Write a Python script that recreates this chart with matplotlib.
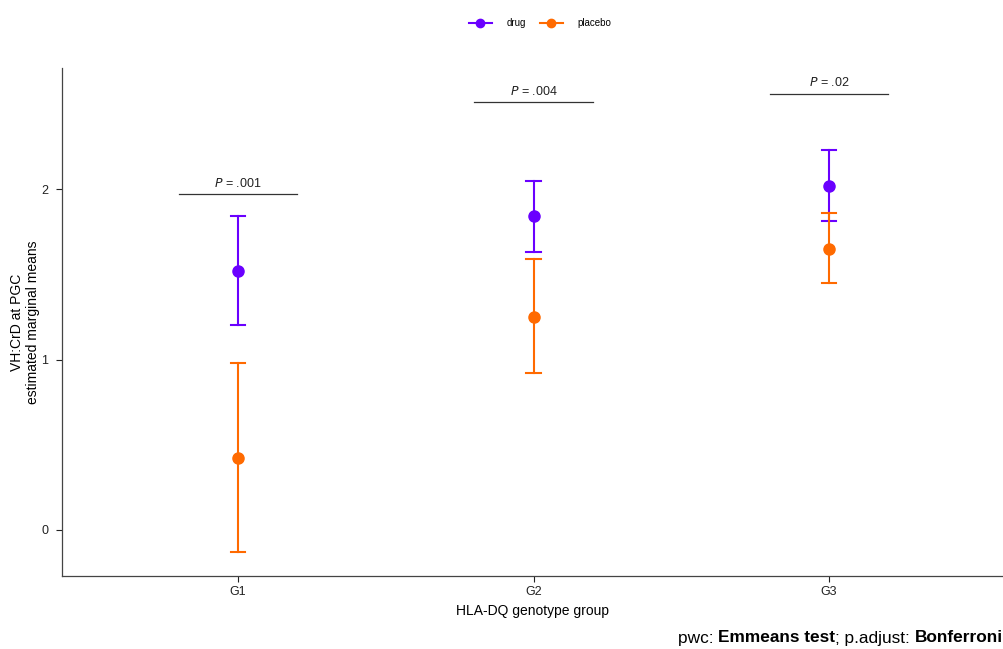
import matplotlib
matplotlib.use("Agg")
from matplotlib import pyplot as plt
from matplotlib.lines import Line2D

plt.rcParams['font.family'] = ['Liberation Sans', 'DejaVu Sans']

groups = ["G1", "G2", "G3"]

drug_mean = [1.52, 1.84, 2.02]
drug_low = [1.20, 1.63, 1.81]
drug_high = [1.84, 2.05, 2.23]

placebo_mean = [0.42, 1.25, 1.65]
placebo_low = [-0.13, 0.92, 1.45]
placebo_high = [0.98, 1.59, 1.86]

p_labels = [".001", ".004", ".02"]
p_heights = [1.97, 2.51, 2.56]

DRUG = "#6A00FF"
PLACEBO = "#FF6A00"

fig = plt.figure(figsize=(10.04, 6.49), dpi=100)
W, H = 1004, 649
ax = fig.add_axes([62 / W, (H - 576) / H, (W - 62) / W, (576 - 68) / H])

x = list(range(1, len(groups) + 1))


def draw_series(means, lows, highs, color):
    for xi, m, lo, hi in zip(x, means, lows, highs):
        ax.plot([xi, xi], [lo, hi], color=color, lw=1.5, zorder=2)
        for yv in (lo, hi):
            ax.plot([xi - 0.025, xi + 0.025], [yv, yv], color=color, lw=1.5, zorder=2)
    ax.plot(x, means, 'o', color=color, ms=8, zorder=3)


draw_series(drug_mean, drug_low, drug_high, DRUG)
draw_series(placebo_mean, placebo_low, placebo_high, PLACEBO)

# p-value brackets
for xi, lab, h in zip(x, p_labels, p_heights):
    ax.plot([xi - 0.2, xi + 0.2], [h, h], color="#333333", lw=0.9)
    ax.text(xi, h + 0.025, "$\\it{P}$ = " + lab, ha="center", va="bottom",
            fontsize=9, color="#222222")

ax.set_xlim(0.404, 3 + (W - 829) / 295.5)
ax.set_ylim(-0.27, 2.71)
ax.set_xticks(x)
ax.set_xticklabels(groups)
ax.set_yticks([0, 1, 2])
ax.tick_params(labelsize=9, colors="#222222", length=4, width=0.8)
ax.tick_params(axis="y", pad=6)
for s in ("top", "right"):
    ax.spines[s].set_visible(False)
for s in ("left", "bottom"):
    ax.spines[s].set_color("#444444")
    ax.spines[s].set_linewidth(0.9)

ax.set_xlabel("HLA-DQ genotype group", fontsize=10, labelpad=4)
ax.set_ylabel("VH:CrD at PGC\nestimated marginal means", fontsize=10, va="center")
ax.yaxis.set_label_coords(-37 / (W - 62), 0.5)

handles = [
    Line2D([], [], color=DRUG, marker='o', ms=6, lw=1.5),
    Line2D([], [], color=PLACEBO, marker='o', ms=6, lw=1.5),
]
fig.legend(handles, ["drug", "placebo"], loc="center", bbox_to_anchor=(540 / W, 1 - 23 / H),
           ncol=2, frameon=False, fontsize=7, handlelength=2.4, handletextpad=1.5,
           columnspacing=1.4)

# caption with mixed bold
parts = [("pwc: ", "normal"), ("Emmeans test", "bold"), ("; p.adjust: ", "normal"),
         ("Bonferroni", "bold")]
fig.canvas.draw()
renderer = fig.canvas.get_renderer()
xr = 1003
for txt, wt in reversed(parts):
    t = fig.text(xr / W, 1 - 638 / H, txt, ha="right", va="center", fontsize=12.4,
                 fontweight=wt, color="black")
    bb = t.get_window_extent(renderer)
    xr -= bb.width

fig.savefig("out.png", dpi=100)
